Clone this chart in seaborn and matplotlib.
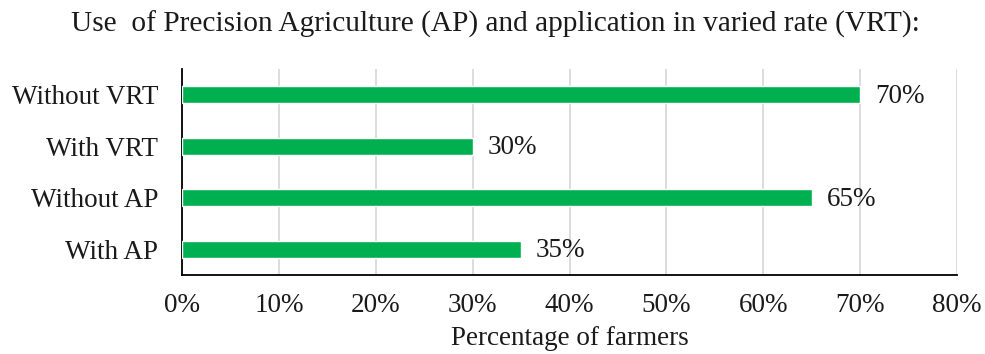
import matplotlib
matplotlib.use("Agg")
import matplotlib.pyplot as plt
import seaborn as sns
import pandas as pd
from matplotlib.ticker import PercentFormatter, FixedLocator

categories = ["Without VRT", "With VRT", "Without AP", "With AP"]
values = [70, 30, 65, 35]
x_ticks = [0, 10, 20, 30, 40, 50, 60, 70, 80]

sns.set_theme(style="white")
plt.rcParams["font.family"] = ["Liberation Serif", "DejaVu Serif"]

df = pd.DataFrame({"category": categories, "value": values})

fig = plt.figure(figsize=(9.85, 3.54), dpi=100)
ax = fig.add_axes([0.1848, 0.2232, 0.7868, 0.5818])

sns.barplot(data=df, x="value", y="category", orient="h", color="#00B050",
            saturation=1, width=0.33, ax=ax, zorder=3)

ax.set_xlim(0, 80)
ax.set_ylim(3.5, -0.5)
ax.xaxis.set_major_locator(FixedLocator(x_ticks))
ax.xaxis.set_major_formatter(PercentFormatter(decimals=0))
ax.grid(axis="x", color="#d9d9d9", linewidth=1.3, zorder=0)
ax.grid(axis="y", visible=False)

for s in ["top", "right"]:
    ax.spines[s].set_visible(False)
for s in ["left", "bottom"]:
    ax.spines[s].set_color("black")
    ax.spines[s].set_linewidth(1.3)

FS = 19.5

# category ticks sit between bars on the left spine
ax.yaxis.set_major_locator(FixedLocator([0, 1, 2, 3]))
ax.yaxis.set_minor_locator(FixedLocator([-0.5, 0.5, 1.5, 2.5, 3.5]))
ax.tick_params(axis="y", which="major", length=0, labelsize=FS, pad=17)
ax.tick_params(axis="y", which="minor", length=6, width=1.3, color="black", direction="out")
ax.tick_params(axis="x", which="major", length=8, width=1.3, color="black",
               direction="inout", labelsize=FS, pad=9)
for lbl in ax.get_yticklabels() + ax.get_xticklabels():
    lbl.set_color("#1a1a1a")

for i, v in enumerate(values):
    ax.text(v + 1.55, i + 0.03, f"{v}%", va="center", ha="left", fontsize=FS, color="#1a1a1a")

ax.set_ylabel("")
ax.set_xlabel("Percentage of farmers", fontsize=FS, color="#1a1a1a", labelpad=6)
fig.suptitle("Use  of Precision Agriculture (AP) and application in varied rate (VRT):",
             x=0.5025, y=0.97, fontsize=21.2, color="#1a1a1a")

fig.savefig("out.png", dpi=100, facecolor="white")
